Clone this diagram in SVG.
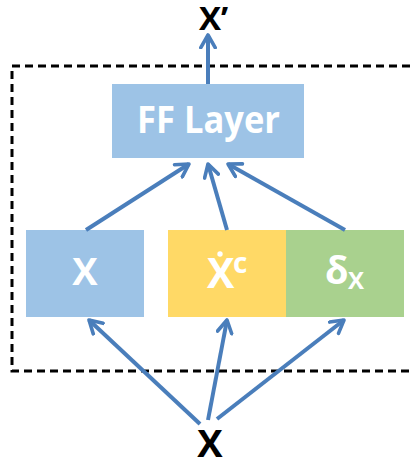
<svg xmlns="http://www.w3.org/2000/svg" width="414" height="462" viewBox="0 0 414 462">
<style>
.lbl{font-family:"Open Sans","Liberation Sans",sans-serif;font-weight:bold;fill:#fff}
.out{font-family:"Open Sans","Liberation Sans",sans-serif;font-weight:bold;fill:#000}
.c{stroke:#4A7EBB;stroke-width:4;fill:none;marker-end:url(#ah)}
</style>
<defs>
<marker id="ah" viewBox="0 0 10 10" refX="8" refY="5" markerWidth="4.5" markerHeight="4.5" orient="auto" markerUnits="strokeWidth">
<path d="M1,1 L8,5 L1,9" fill="none" stroke="#4A7EBB" stroke-width="2" stroke-linecap="round" stroke-linejoin="round"/>
</marker>
</defs>
<rect id="frame" x="12" y="66" width="410" height="305" fill="none" stroke="#000" stroke-width="3" stroke-dasharray="8,5"/>
<g id="ff"><rect x="112" y="84" width="192" height="74" fill="#9DC3E6"/><text class="lbl" x="137" y="133" font-size="37" textLength="143" lengthAdjust="spacingAndGlyphs">FF Layer</text></g>
<g id="x"><rect x="26" y="230" width="118" height="87" fill="#9DC3E6"/><text class="lbl" x="85" y="285" font-size="38" text-anchor="middle">X</text></g>
<g id="xc"><rect x="168" y="230" width="118" height="87" fill="#FFD966"/><text class="lbl" x="207" y="288" font-size="41">X</text><text class="lbl" x="233" y="273" font-size="28">c</text><circle cx="220" cy="254" r="2.7" fill="#fff"/></g>
<g id="dx"><rect x="286" y="230" width="118" height="87" fill="#A9D18E"/><text class="lbl" x="325" y="284" font-size="38">δ</text><text class="lbl" x="348" y="289" font-size="24">X</text></g>
<g id="xin"><text class="out" x="210" y="457" font-size="38" text-anchor="middle">X</text></g>
<g id="xout"><text class="out" x="199" y="30" font-size="33">X’</text></g>
<g id="connectors">
<path class="c" d="M208,84 L208,35"/>
<path class="c" d="M86,230 L189,164"/>
<path class="c" d="M227,230 L208,164"/>
<path class="c" d="M345,230 L228,164"/>
<path class="c" d="M200,424 L89,320"/>
<path class="c" d="M208,420 L227,320"/>
<path class="c" d="M217,419 L344,320"/>
</g>
</svg>
